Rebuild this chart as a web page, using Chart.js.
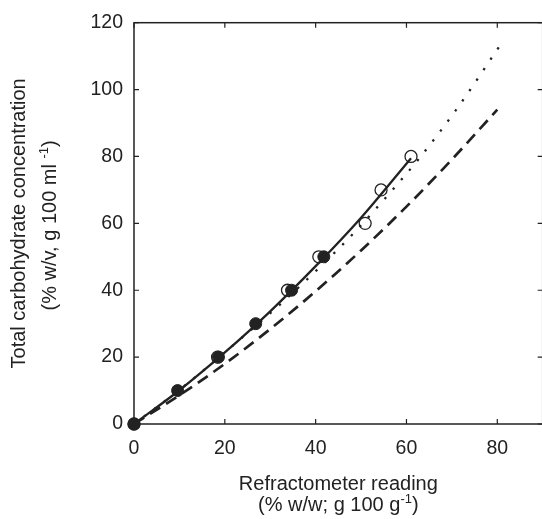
<!DOCTYPE html>
<html>
<head>
<meta charset="utf-8">
<script src="https://cdn.jsdelivr.net/npm/chart.js@4.4.1/dist/chart.umd.min.js"></script>
<style>
  html, body { margin: 0; padding: 0; background: #fff; overflow: hidden; }
  #wrap { position: relative; width: 550px; height: 519px; }
</style>
</head>
<body>
<div id="wrap"><canvas id="refractChart"></canvas></div>
<script>
// values
const filledX = [0, 9.6, 18.6, 26.8, 34.7, 41.8];
const filledY = [0, 10, 20, 30, 40, 50];
const openX = [0, 18.4, 33.8, 40.7, 50.9, 54.4, 61.0];
const openY = [0, 20, 40, 50, 60, 70, 80];

// fitted curves (solid, dotted, dashed)
const solidX = [0, 10, 20, 30, 40, 50, 61];
const solidY = [0, 10.1, 21.4, 33.7, 47.2, 61.7, 79.5];
const dottedX = [0, 10, 22.4, 32.7, 40.7, 48.4, 55.7, 62.6, 70.8, 81.5];
const dottedY = [0, 10.2, 24.2, 36.4, 46.6, 57.1, 68.1, 79.1, 93.7, 115];
const dashedX = [0, 10, 20, 30, 40, 50, 60, 70, 80];
const dashedY = [0, 8.6, 18.0, 28.4, 39.7, 51.9, 65.0, 79.1, 94];

const xTicks = [0, 20, 40, 60, 80];
const yTicks = [0, 20, 40, 60, 80, 100, 120];

const ink = '#222';
const family = '"Liberation Sans", Arial, Helvetica, sans-serif';
const mainFont = '20px ' + family;
const supFont = '13px ' + family;

function toPoints(xs, ys) {
  return xs.map((x, i) => ({ x: x, y: ys[i] }));
}

// box round the plot with inward ticks on all four sides
const framePlugin = {
  id: 'frame',
  beforeDatasetsDraw(chart) {
    const { ctx, chartArea: a, scales } = chart;
    ctx.save();
    ctx.strokeStyle = ink;
    ctx.lineWidth = 1.5;
    ctx.strokeRect(a.left, a.top, a.right - a.left, a.bottom - a.top);
    const len = 5;
    ctx.lineWidth = 1.2;
    ctx.beginPath();
    xTicks.forEach((v) => {
      const px = scales.x.getPixelForValue(v);
      ctx.moveTo(px, a.bottom);
      ctx.lineTo(px, a.bottom - len);
      ctx.moveTo(px, a.top);
      ctx.lineTo(px, a.top + len);
    });
    yTicks.forEach((v) => {
      const py = scales.y.getPixelForValue(v);
      ctx.moveTo(a.left, py);
      ctx.lineTo(a.left + len, py);
      ctx.moveTo(a.right, py);
      ctx.lineTo(a.right - len, py);
    });
    ctx.stroke();
    ctx.restore();
  },
};

// text with a raised "-1"
function drawRich(ctx, parts, cx, baseY) {
  const widths = parts.map(([t, sup]) => {
    ctx.font = sup ? supFont : mainFont;
    return ctx.measureText(t).width;
  });
  const total = widths.reduce((s, w) => s + w, 0);
  let xPos = cx - total / 2;
  parts.forEach(([t, sup], i) => {
    ctx.font = sup ? supFont : mainFont;
    ctx.fillText(t, xPos, sup ? baseY - 8 : baseY);
    xPos += widths[i];
  });
}

const titlePlugin = {
  id: 'axisTitles',
  afterDraw(chart) {
    const { ctx, chartArea: a } = chart;
    ctx.save();
    ctx.fillStyle = ink;
    ctx.textAlign = 'left';
    ctx.textBaseline = 'alphabetic';
    const cx = (a.left + a.right) / 2;
    drawRich(ctx, [['Refractometer reading', false]], cx, 490);
    drawRich(ctx, [['(% w/w; g 100 g', false], ['-1', true], [')', false]], cx, 511);

    const cy = (a.top + a.bottom) / 2;
    ctx.translate(0, cy);
    ctx.rotate(-Math.PI / 2);
    drawRich(ctx, [['Total carbohydrate concentration', false]], 0, 24.5);
    drawRich(ctx, [['(% w/v, g 100 ml ', false], ['-1', true], [')', false]], -2, 56);
    ctx.restore();
  },
};

const pointStyle = {
  showLine: false,
  pointRadius: 6,
  pointHoverRadius: 6,
  clip: false,
};

const lineStyle = {
  showLine: true,
  pointRadius: 0,
  pointHoverRadius: 0,
  borderColor: ink,
  cubicInterpolationMode: 'monotone',
  fill: false,
};

new Chart(document.getElementById('refractChart').getContext('2d'), {
  type: 'scatter',
  data: {
    datasets: [
      {
        ...pointStyle,
        label: 'filled',
        data: toPoints(filledX, filledY),
        backgroundColor: ink,
        borderColor: ink,
        borderWidth: 1,
        order: 0,
      },
      {
        ...pointStyle,
        label: 'open',
        data: toPoints(openX, openY),
        backgroundColor: 'rgba(0,0,0,0)',
        borderColor: ink,
        borderWidth: 1.3,
        order: 1,
      },
      {
        ...lineStyle,
        label: 'solid',
        data: toPoints(solidX, solidY),
        borderWidth: 2.3,
        order: 2,
      },
      {
        ...lineStyle,
        label: 'dotted',
        data: toPoints(dottedX, dottedY),
        borderWidth: 2.3,
        borderDash: [2.3, 10.2],
        order: 3,
      },
      {
        ...lineStyle,
        label: 'dashed',
        data: toPoints(dashedX, dashedY),
        borderWidth: 2.7,
        borderDash: [12, 7],
        order: 4,
      },
    ],
  },
  options: {
    responsive: true,
    maintainAspectRatio: false,
    animation: false,
    events: [],
    layout: { padding: { top: 14, right: 5, left: 0, bottom: 0 } },
    plugins: {
      legend: { display: false },
      tooltip: { enabled: false },
    },
    scales: {
      x: {
        type: 'linear',
        min: 0,
        max: 90,
        afterFit(scale) {
          scale.height = 95;
        },
        grid: { display: false, drawTicks: false },
        border: { display: false },
        ticks: {
          stepSize: 20,
          includeBounds: false,
          padding: 13,
          maxRotation: 0,
          color: ink,
          font: { family: family, size: 19.5 },
        },
      },
      y: {
        type: 'linear',
        min: 0,
        max: 120,
        afterFit(scale) {
          scale.width = 134;
        },
        grid: { display: false, drawTicks: false },
        border: { display: false },
        ticks: {
          stepSize: 20,
          padding: 11,
          color: ink,
          font: { family: family, size: 19.5 },
        },
      },
    },
  },
  plugins: [framePlugin, titlePlugin],
});
</script>
</body>
</html>
